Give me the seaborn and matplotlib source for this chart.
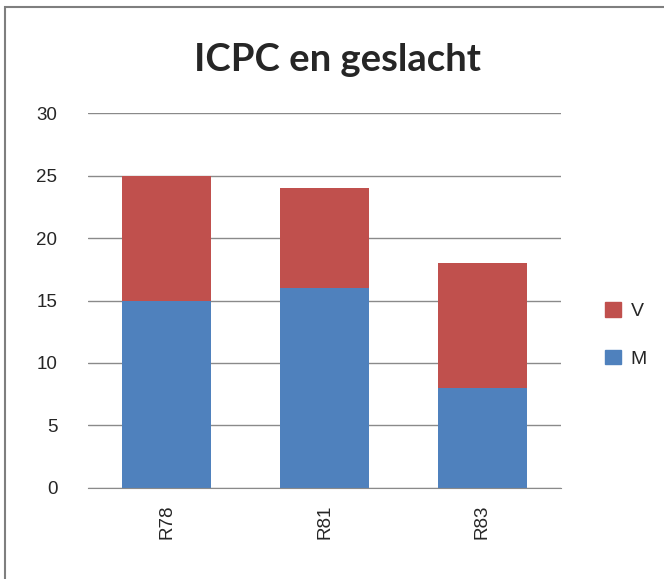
import matplotlib
matplotlib.use("Agg")
import matplotlib.pyplot as plt
import matplotlib.patches as mpatches
import pandas as pd
import seaborn as sns

# data
categories = ["R78", "R81", "R83"]
m_values = [15, 16, 8]
v_values = [10, 8, 10]

df = pd.DataFrame({"code": categories, "M": m_values, "V": v_values})
df["total"] = df["M"] + df["V"]

blue = "#4F81BD"
red = "#C0504D"

sns.set_style("white")
plt.rcParams["font.family"] = ["Liberation Sans", "DejaVu Sans"]

fig = plt.figure(figsize=(6.64, 5.79), dpi=100)
ax = fig.add_axes([0.1325, 0.1572, 0.7125, 0.6476])

# stacked: draw total in red, then M in blue over it
sns.barplot(data=df, x="code", y="total", color=red, width=0.565,
            saturation=1, linewidth=0, ax=ax)
sns.barplot(data=df, x="code", y="M", color=blue, width=0.565,
            saturation=1, linewidth=0, ax=ax)

ax.set_ylim(0, 30)
ax.set_yticks(range(0, 31, 5))
ax.set_xlim(-0.5, 2.5)
ax.yaxis.grid(True, color="#8a8a8a", linewidth=1)
ax.set_axisbelow(True)
for s in ["top", "right", "left"]:
    ax.spines[s].set_visible(False)
ax.spines["bottom"].set_color("#8a8a8a")
ax.set_xlabel("")
ax.set_ylabel("")
ax.tick_params(axis="y", length=0, labelsize=13.5, pad=22)
ax.tick_params(axis="x", length=0, labelsize=13.5, rotation=90, pad=12)

fig.suptitle("ICPC en geslacht", x=0.509, y=0.925, fontsize=27.5,
             fontweight="bold", family=["Lato", "DejaVu Sans"])

handles = [mpatches.Patch(color=red, label="V"),
           mpatches.Patch(color=blue, label="M")]
fig.legend(handles=handles, loc="center left", bbox_to_anchor=(0.885, 0.4215),
           frameon=False, fontsize=14, handlelength=0.8, handleheight=0.8,
           handletextpad=0.5, labelspacing=1.5)

# outer chart frame (left/top edges visible)
frame = mpatches.Rectangle((5 / 664, -0.05), 1.1, 1 - 7 / 579 + 0.05,
                           transform=fig.transFigure, fill=False,
                           edgecolor="#7f7f7f", linewidth=1.5)
fig.patches.append(frame)

fig.savefig("out.png", dpi=100)
